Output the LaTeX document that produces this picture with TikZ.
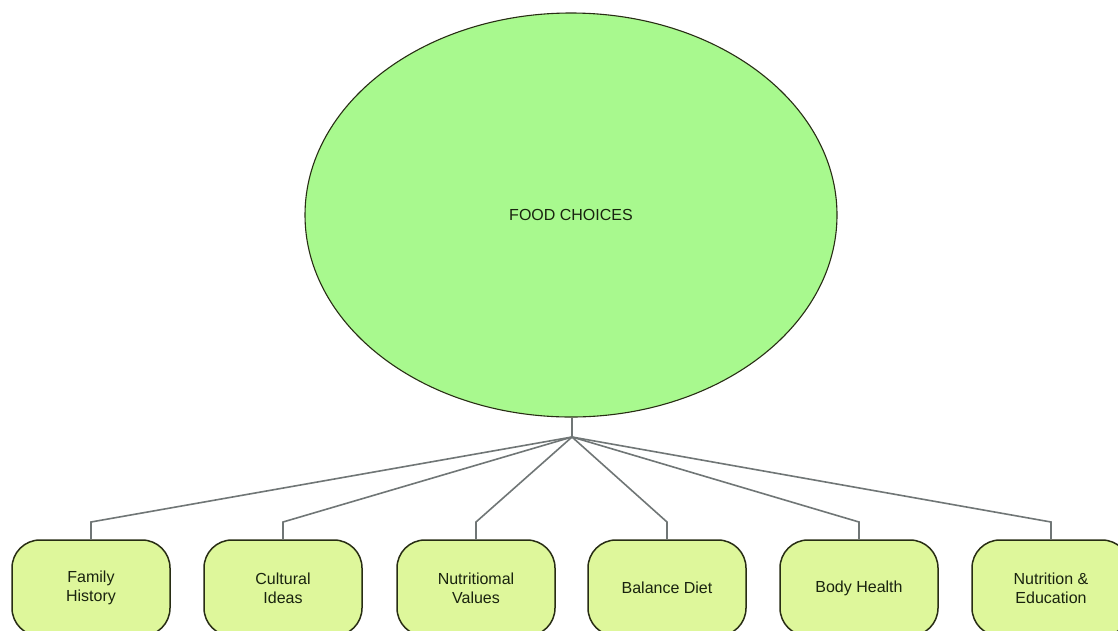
\documentclass[tikz,border=0pt]{standalone}
\usepackage{fontspec}
\setmainfont{Liberation Sans}
\usetikzlibrary{shapes.geometric}
\definecolor{ellfill}{RGB}{168,249,142}
\definecolor{boxfill}{RGB}{222,247,155}
\definecolor{boxline}{RGB}{40,45,20}
\definecolor{conn}{RGB}{112,118,118}
\definecolor{txt}{RGB}{25,35,15}
\tikzset{
  mainell/.style={ellipse, draw=boxline, line width=1.1pt, fill=ellfill, minimum width=532pt, minimum height=404pt, inner sep=0pt, text=txt, font=\fontsize{16}{19}\selectfont},
  leafbox/.style={draw=boxline, line width=1.5pt, fill=boxfill, rounded corners=28pt, minimum width=158pt, minimum height=96pt, inner sep=0pt, align=center, text=txt, font=\fontsize{16}{19}\selectfont},
  linkline/.style={draw=conn, line width=1.6pt}
}
\begin{document}
\begin{tikzpicture}[x=1pt,y=-1pt]
\useasboundingbox (0,0) rectangle (1118,630);
\clip (0,0) rectangle (1118,630);
\fill[white] (0,0) rectangle (1118,630);
\node[mainell] (fc) at (571,215) {FOOD CHOICES};
\coordinate (hub) at (572,437);
\coordinate (elb) at (0,522);
\node[leafbox] (b1) at (91,588) {Family\\History};
\node[leafbox] (b2) at (283,588) {Cultural\\Ideas};
\node[leafbox] (b3) at (476,588) {Nutritiomal\\Values};
\node[leafbox] (b4) at (667,588) {Balance Diet};
\node[leafbox] (b5) at (859,588) {Body Health};
\node[leafbox] (b6) at (1051,588) {Nutrition \&\\Education};
\draw[linkline] (fc.south -| hub) -- (hub);
\foreach \b in {b1,b2,b3,b4,b5,b6}{
  \draw[linkline] (hub) -- (\b.north |- elb) -- (\b.north);
}
\end{tikzpicture}
\end{document}
